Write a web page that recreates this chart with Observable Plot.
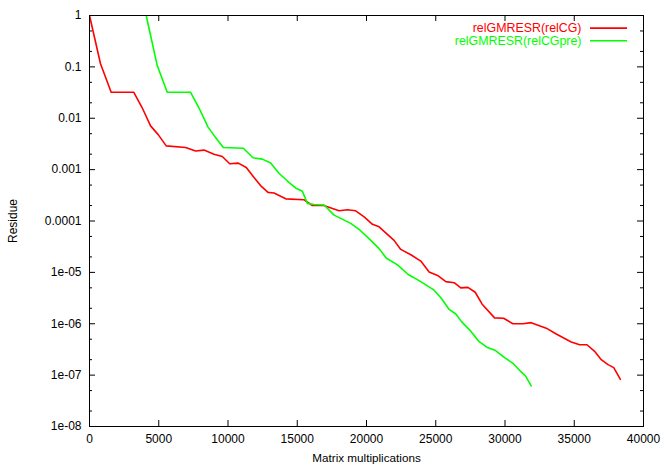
<!DOCTYPE html>
<html>
<head>
<meta charset="utf-8">
<script src="https://cdn.jsdelivr.net/npm/d3@7"></script>
<script src="https://cdn.jsdelivr.net/npm/@observablehq/plot@0.6"></script>
<style>
  html, body { margin: 0; padding: 0; background: #fff; }
</style>
</head>
<body>
<div id="chart"></div>
<script>
// ---- data ----
const seriesNames = ["relGMRESR(relCG)", "relGMRESR(relCGpre)"];
const seriesColors = ["#ff0000", "#00ff00"];

const relCG_x = [0, 795, 1565, 3200, 3805, 4410, 4960, 5540, 6940, 7660, 8265, 8990, 9590, 10120, 10745, 11320, 11880, 12410, 12890, 13320, 14165, 15470, 16090, 16910, 18020, 18620, 19220, 19830, 20430, 20910, 21510, 21990, 22475, 23200, 23920, 24520, 25130, 25730, 26330, 26810, 27320, 27850, 28350, 29250, 29900, 30570, 31290, 31890, 32980, 33700, 34780, 35390, 35920, 36470, 36950, 37440, 37850, 38330];
const relCG_y = [1, 0.115, 0.032, 0.032, 0.016, 0.0071, 0.0048, 0.0029, 0.0027, 0.0023, 0.0024, 0.002, 0.0018, 0.0013, 0.00134, 0.0011, 0.0007, 0.00047, 0.00036, 0.00035, 0.00027, 0.00026, 0.0002, 0.0002, 0.000158, 0.000165, 0.000158, 0.00012, 0.000086, 0.000077, 0.000055, 0.000042, 0.000028, 0.000022, 0.0000166, 0.0000102, 0.0000087, 0.0000066, 0.0000063, 0.000005, 0.0000051, 0.0000041, 0.0000024, 0.0000013, 0.00000128, 0.000001, 0.000001, 0.00000105, 0.00000082, 0.00000063, 0.00000044, 0.00000039, 0.00000039, 0.00000029, 0.0000002, 0.00000016, 0.00000014, 0.000000083];

const relCGpre_x = [4095, 4890, 5615, 7300, 7900, 8550, 9105, 9660, 11110, 11800, 12480, 13080, 13680, 14290, 14880, 15370, 15730, 16210, 16940, 17660, 18860, 19460, 20310, 20910, 21440, 22240, 23010, 23800, 24880, 25370, 25970, 26450, 26860, 27440, 28090, 28690, 29320, 29970, 30570, 31100, 31490, 31890];
const relCGpre_y = [1, 0.106, 0.032, 0.032, 0.016, 0.0068, 0.0042, 0.0027, 0.0026, 0.0017, 0.0016, 0.00134, 0.00085, 0.0006, 0.00044, 0.00038, 0.00022, 0.00021, 0.000205, 0.00013, 0.00009, 0.000069, 0.000042, 0.000029, 0.0000188, 0.000014, 0.0000091, 0.0000069, 0.0000045, 0.0000032, 0.0000019, 0.00000155, 0.0000011, 0.00000076, 0.00000046, 0.00000035, 0.0000003, 0.00000022, 0.00000017, 0.00000012, 0.000000096, 0.000000062];

const xTicks = [0, 5000, 10000, 15000, 20000, 25000, 30000, 35000, 40000];
const yTicks = [1, 0.1, 0.01, 0.001, 0.0001, 1e-5, 1e-6, 1e-7, 1e-8];
const yTickLabels = ["1", "0.1", "0.01", "0.001", "0.0001", "1e-05", "1e-06", "1e-07", "1e-08"];
const yMinorTicks = [0.5, 0.2, 0.05, 0.02, 0.005, 0.002, 5e-4, 2e-4, 5e-5, 2e-5, 5e-6, 2e-6, 5e-7, 2e-7, 5e-8, 2e-8];
const xLabel = "Matrix multiplications";
const yLabel = "Residue";

// ---- layout ----
const W = 664, H = 465;
const mL = 89, mR = 21, mT = 15, mB = 39;
const FW = W - mL - mR, FH = H - mT - mB;
const major = 6, minor = 3;

const redData = relCG_x.map((x, i) => ({x, y: relCG_y[i]}));
const greenData = relCGpre_x.map((x, i) => ({x, y: relCGpre_y[i]}));

const legendY0 = 12.6, legendStep = 12.6;

const chart = Plot.plot({
  width: W,
  height: H,
  marginLeft: mL, marginRight: mR, marginTop: mT, marginBottom: mB,
  style: "font-family: 'Liberation Sans', Arial, sans-serif; font-size: 12px; background: #fff; color: #000;",
  x: {domain: [0, 40000]},
  y: {type: "log", domain: [1e-8, 1]},
  marks: [
    // ticks (inward, mirrored)
    Plot.ruleX(xTicks, {x: d => d, insetTop: FH - major, stroke: "black"}),
    Plot.ruleX(xTicks, {x: d => d, insetBottom: FH - major, stroke: "black"}),
    Plot.ruleY(yTicks, {y: d => d, insetRight: FW - major, stroke: "black"}),
    Plot.ruleY(yTicks, {y: d => d, insetLeft: FW - major, stroke: "black"}),
    Plot.ruleY(yMinorTicks, {y: d => d, insetRight: FW - minor, stroke: "black"}),
    Plot.ruleY(yMinorTicks, {y: d => d, insetLeft: FW - minor, stroke: "black"}),
    // tick labels
    Plot.axisX({ticks: xTicks, tickSize: 0, tickPadding: 8, tickFormat: d => String(d), label: null}),
    Plot.axisY({ticks: yTicks, tickSize: 0, tickPadding: 8, tickFormat: d => yTickLabels[yTicks.indexOf(d)], label: null}),
    // axis titles
    Plot.text([xLabel], {text: d => d, frameAnchor: "bottom", dy: 32, lineAnchor: "middle", fill: "black", fontSize: 11.7}),
    Plot.text([yLabel], {text: d => d, frameAnchor: "left", dx: -76, rotate: -90, lineAnchor: "middle", textAnchor: "middle", fill: "black"}),
    // data lines
    Plot.line(redData, {x: "x", y: "y", stroke: seriesColors[0], strokeWidth: 1.6, clip: true}),
    Plot.line(greenData, {x: "x", y: "y", stroke: seriesColors[1], strokeWidth: 1.6, clip: true}),
    // legend
    ...seriesNames.flatMap((name, i) => [
      Plot.text([name], {text: d => d, frameAnchor: "top-right", dx: -62, dy: legendY0 + i * legendStep, textAnchor: "end", lineAnchor: "middle", fill: seriesColors[i], fontSize: 12.4}),
      Plot.ruleY([name], {y: null, insetLeft: 590 - mL, insetRight: (mL + FW) - 627, dy: (mT + legendY0 + i * legendStep) - (mT + FH / 2), stroke: seriesColors[i], strokeWidth: 1.6})
    ]),
    Plot.frame({stroke: "black"})
  ]
});
document.getElementById("chart").appendChild(chart);
</script>
</body>
</html>
